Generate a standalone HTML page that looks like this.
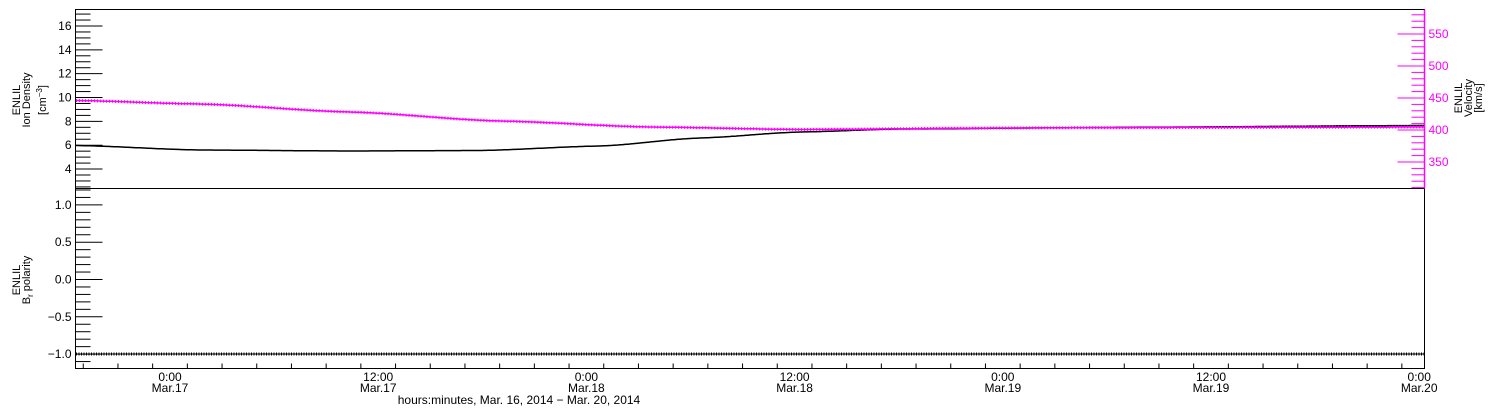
<!DOCTYPE html>
<html><head><meta charset="utf-8"><style>
html,body{margin:0;padding:0;background:#fff;}
svg{display:block;font-family:"Liberation Sans",sans-serif;}
</style></head><body>
<svg id="s" width="1500" height="410" xmlns="http://www.w3.org/2000/svg"></svg>
<script>
const s=document.getElementById('s');
let h='';
const L=75.5,R=1424.5,T=9.5,M=188.5,B=368.5;
function ln(x1,y1,x2,y2,c,w){h+=`<line x1="${x1}" y1="${y1}" x2="${x2}" y2="${y2}" stroke="${c||'#000'}" stroke-width="${w||1}"/>`;}
function tx(x,y,t,a,c,extra){h+=`<text x="${x}" y="${y}" font-size="12" text-anchor="${a||'end'}" fill="${c||'#000'}" ${extra||''}>${t}</text>`;}
h+=`<rect x="${L}" y="${T}" width="${R-L}" height="${B-T}" fill="none" stroke="#000"/>`;
ln(L,M,R,M);
ln(R,T,R,M,'#f0f',1.5);
const yd=v=>26+(16-v)*11.92;
for(let v=2.5;v<=17.4;v+=0.5){const y=yd(v);if(y<T||y>M)continue;const maj=Math.abs(v-Math.round(v))<1e-6&&Math.round(v)%2==0;ln(L,y,L+(maj?27:15),y);if(maj)tx(L-4,y+4,Math.round(v));}
const yv=v=>34+(550-v)*0.64;
for(let v=310;v<=590;v+=10){const y=yv(v);if(y<T||y>M)continue;const maj=v%50==0;ln(R,y,R-(maj?27:13),y,'#f0f');if(maj)tx(R+4,y+4,v,'start','#f0f');}
const yb=v=>279.5-v*74.6;
for(let i=-13;i<=12;i++){const v=i/10;const y=yb(v);if(y<M||y>B)continue;const maj=i%5==0;ln(L,y,L+(maj?27:15),y);if(maj)tx(L-4,y+4,(v<0?'\u2212':'')+Math.abs(v).toFixed(1));}
const x0=170,ph=208.2/12;
for(let k=-5;k<=72;k+=2){const x=x0+k*ph;if(x<L||x>R)continue;const maj=k%12==0;ln(x,B,x,B-(maj?9:5));}
const labs=[['0:00','Mar.17'],['12:00','Mar.17'],['0:00','Mar.18'],['12:00','Mar.18'],['0:00','Mar.19'],['12:00','Mar.19'],['0:00','Mar.20']];
labs.forEach((l,i)=>{const x=x0+i*208.2;tx(x,381,l[0],'middle');tx(x,392,l[1],'middle');});
tx(519,404,'hours:minutes, Mar. 16, 2014 \u2212 Mar. 20, 2014','middle');
h+=`<text transform="translate(20,100) rotate(-90)" font-size="11" text-anchor="middle">ENLIL</text>`;
h+=`<text transform="translate(30,100) rotate(-90)" font-size="11" text-anchor="middle">Ion Density</text>`;
h+=`<text transform="translate(46,100) rotate(-90)" font-size="11" text-anchor="middle">[cm<tspan dy="-4" font-size="8">\u22123</tspan><tspan dy="4">]</tspan></text>`;
h+=`<text transform="translate(1462,98) rotate(-90)" font-size="11" text-anchor="middle">ENLIL</text>`;
h+=`<text transform="translate(1472,98) rotate(-90)" font-size="11" text-anchor="middle">Velocity</text>`;
h+=`<text transform="translate(1482,98) rotate(-90)" font-size="11" text-anchor="middle">[km/s]</text>`;
h+=`<text transform="translate(20,280) rotate(-90)" font-size="11" text-anchor="middle">ENLIL</text>`;
h+=`<text transform="translate(30,280) rotate(-90)" font-size="11" text-anchor="middle">B<tspan dy="3" font-size="8">r</tspan><tspan dy="-3"> polarity</tspan></text>`;
function interp(pts,x){for(let i=0;i<pts.length-1;i++){if(x>=pts[i][0]&&x<=pts[i+1][0]){const t=(x-pts[i][0])/(pts[i+1][0]-pts[i][0]);const u=(1-Math.cos(Math.PI*t))/2;return pts[i][1]+(pts[i+1][1]-pts[i][1])*(0.5*t+0.5*u);}}return pts[pts.length-1][1];}
const mag=[[76,100.5],[200,104],[350,112],[500,121],[650,127],[800,129.5],[1000,128],[1200,127.5],[1424,127]];
const blk=[[76,145.5],[200,150],[350,151],[480,150.5],[600,146],[700,138],[800,132],[900,129],[1100,127.5],[1424,125.5]];
let pm='',pb='';
for(let x=76;x<=1424;x+=2){pm+=`${x},${interp(mag,x).toFixed(1)} `;pb+=`${x},${interp(blk,x).toFixed(1)} `;}
h+=`<polyline points="${pb}" fill="none" stroke="#000" stroke-width="1.5"/>`;
h+=`<polyline points="${pm}" fill="none" stroke="#808080" stroke-width="1"/>`;
h+=`<polyline points="${pm}" fill="none" stroke="#f0f" stroke-width="3" stroke-dasharray="1 2"/>`;
h+=`<polyline points="${pm}" fill="none" stroke="#f0f" stroke-width="1.5"/>`;
ln(76,354,1424,354,'#000',1);
h+=`<line x1="76" y1="354" x2="1424" y2="354" stroke="#000" stroke-width="3" stroke-dasharray="1 1.5"/>`;
s.innerHTML=h;
</script>
</body></html>
